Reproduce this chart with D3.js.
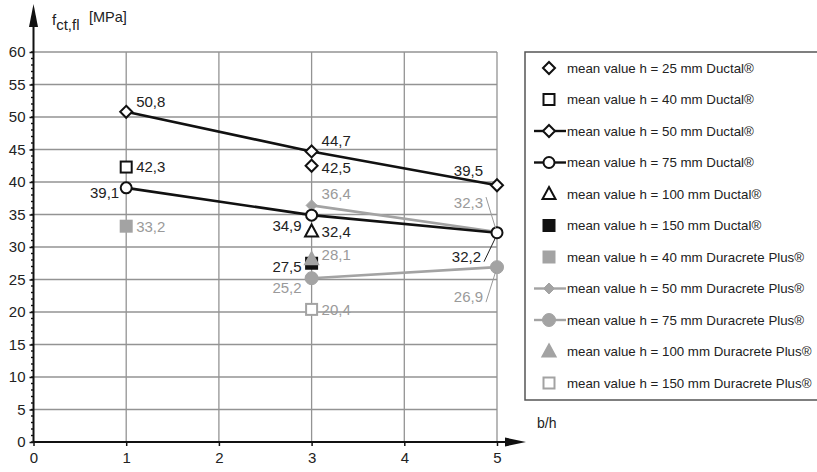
<!DOCTYPE html>
<html><head><meta charset="utf-8">
<script src="https://cdn.jsdelivr.net/npm/d3@7"></script>
<style>body{margin:0;background:#fff}svg{display:block;font-family:"Liberation Sans",Arial,sans-serif}</style>
</head><body><svg id="c" width="817" height="472"></svg>
<script>
// ---------- data ----------
const xTicks = [0,1,2,3,4,5];
const yTicks = [0,5,10,15,20,25,30,35,40,45,50,55,60];
const seriesNames = [
  "mean value h = 25 mm Ductal®",
  "mean value h = 40 mm Ductal®",
  "mean value h = 50 mm Ductal®",
  "mean value h = 75 mm Ductal®",
  "mean value h = 100 mm Ductal®",
  "mean value h = 150 mm Ductal®",
  "mean value h = 40 mm Duracrete Plus®",
  "mean value h = 50 mm Duracrete Plus®",
  "mean value h = 75 mm Duracrete Plus®",
  "mean value h = 100 mm Duracrete Plus®",
  "mean value h = 150 mm Duracrete Plus®"
];
const d25Ductal   = [[3,42.5]];
const d40Ductal   = [[1,42.3]];
const d50Ductal   = [[1,50.8],[3,44.7],[5,39.5]];
const d75Ductal   = [[1,39.1],[3,34.9],[5,32.2]];
const d100Ductal  = [[3,32.4]];
const d150Ductal  = [[3,27.5]];
const d40Dura     = [[1,33.2]];
const d50Dura     = [[3,36.4],[5,32.3]];
const d75Dura     = [[3,25.2],[5,26.9]];
const d100Dura    = [[3,28.1]];
const d150Dura    = [[3,20.4]];
const seriesData = [d25Ductal,d40Ductal,d50Ductal,d75Ductal,d100Ductal,d150Ductal,d40Dura,d50Dura,d75Dura,d100Dura,d150Dura];

// ---------- styles ----------
const BLACK = "#111", GRAY = "#a3a3a3";
const styles = [
  {sym:"diamond", stroke:BLACK, fill:"#fff", line:false},
  {sym:"square",  stroke:BLACK, fill:"#fff", line:false},
  {sym:"diamond", stroke:BLACK, fill:"#fff", line:true},
  {sym:"circle",  stroke:BLACK, fill:"#fff", line:true},
  {sym:"triangle",stroke:BLACK, fill:"#fff", line:false},
  {sym:"square",  stroke:BLACK, fill:BLACK,  line:false},
  {sym:"square",  stroke:GRAY,  fill:GRAY,   line:false},
  {sym:"sdiamond",stroke:GRAY,  fill:GRAY,   line:true},
  {sym:"bcircle", stroke:GRAY,  fill:GRAY,   line:true},
  {sym:"triangle",stroke:GRAY,  fill:GRAY,   line:false},
  {sym:"square",  stroke:GRAY,  fill:"#fff", line:false}
];
// label placements per series, per point: [dx, dy, anchor, leader?]
const labelPos = [
  [[10,7,"start"]],
  [[10,5,"start"]],
  [[10,-5,"start"],[10,-5,"start"],[-14,-9,"end"]],
  [[-7,10,"end"],[-10,16,"end"],[-16,29,"end","lead"]],
  [[10,6,"start"]],
  [[-10,9,"end"]],
  [[10,6,"start"]],
  [[10,-6,"start"],[-14,-24,"end","lead"]],
  [[-10,15,"end"],[-14,35,"end","lead"]],
  [[10,1,"start"]],
  [[10,6,"start"]]
];

const svg = d3.select("#c");
const x = d3.scaleLinear().domain([0,5]).range([33.5,497]);
const y = d3.scaleLinear().domain([0,60]).range([442,52]);

// grid
const grid = svg.append("g").attr("stroke","#939393").attr("stroke-width",1.3);
yTicks.filter(v=>v>0).forEach(v=>grid.append("line").attr("x1",x(0)).attr("x2",x(5)).attr("y1",y(v)).attr("y2",y(v)));
xTicks.filter(v=>v>0).forEach(v=>grid.append("line").attr("x1",x(v)).attr("x2",x(v)).attr("y1",y(0)).attr("y2",y(60)));

// axes with d3
const yAxis = d3.axisLeft(y).tickValues(yTicks).tickSize(4).tickPadding(4).tickFormat(d3.format("d"));
const gy = svg.append("g").attr("transform",`translate(${x(0)},0)`).call(yAxis);
gy.select(".domain").remove();
gy.selectAll("text").attr("font-size",15).attr("fill","#222").attr("font-family","Liberation Sans, Arial, sans-serif");
gy.selectAll("line").attr("stroke","#111").attr("stroke-width",1.5);
// minor ticks
d3.range(0,61).forEach(v=>svg.append("line").attr("x1",x(0)-2.5).attr("x2",x(0)).attr("y1",y(v)).attr("y2",y(v)).attr("stroke","#111").attr("stroke-width",1.4));

const xAxis = d3.axisBottom(x).tickValues(xTicks).tickSize(4).tickPadding(6).tickFormat(d3.format("d"));
const gx = svg.append("g").attr("transform",`translate(0,${y(0)})`).call(xAxis);
gx.select(".domain").remove();
gx.selectAll("text").attr("font-size",15).attr("fill","#222").attr("font-family","Liberation Sans, Arial, sans-serif");
gx.selectAll("line").attr("stroke","#111").attr("stroke-width",1.5);

// axis lines with arrows
svg.append("line").attr("x1",x(0)).attr("x2",x(0)).attr("y1",y(0)).attr("y2",22).attr("stroke","#111").attr("stroke-width",2);
svg.append("path").attr("d",`M${x(0)-4.5},27 L${x(0)},4 L${x(0)+4.5},27 Z`).attr("fill","#111");
svg.append("line").attr("x1",x(0)).attr("x2",510).attr("y1",y(0)).attr("y2",y(0)).attr("stroke","#111").attr("stroke-width",2);
svg.append("path").attr("d",`M505,${y(0)-4.5} L526,${y(0)} L505,${y(0)+4.5} Z`).attr("fill","#111");

// axis titles
const yt = svg.append("text").attr("x",52).attr("y",25).attr("font-size",15).attr("fill","#222");
yt.append("tspan").text("f");
yt.append("tspan").attr("dy",5).attr("font-size",15).text("ct,fl");
svg.append("text").attr("x",89).attr("y",22).attr("font-size",14.5).attr("fill","#222").text("[MPa]");
svg.append("text").attr("x",537).attr("y",428).attr("font-size",14).attr("fill","#222").text("b/h");

// marker drawing
function marker(g, st, cx, cy){
  const sw = 2;
  switch(st.sym){
    case "diamond": g.append("path").attr("d",`M${cx},${cy-6} L${cx+6},${cy} L${cx},${cy+6} L${cx-6},${cy} Z`).attr("fill",st.fill).attr("stroke",st.stroke).attr("stroke-width",sw); break;
    case "sdiamond": g.append("path").attr("d",`M${cx},${cy-5.5} L${cx+5.5},${cy} L${cx},${cy+5.5} L${cx-5.5},${cy} Z`).attr("fill",st.fill).attr("stroke",st.stroke).attr("stroke-width",1); break;
    case "square": g.append("rect").attr("x",cx-5.5).attr("y",cy-5.5).attr("width",11).attr("height",11).attr("fill",st.fill).attr("stroke",st.stroke).attr("stroke-width",sw); break;
    case "circle": g.append("circle").attr("cx",cx).attr("cy",cy).attr("r",5.5).attr("fill",st.fill).attr("stroke",st.stroke).attr("stroke-width",sw); break;
    case "bcircle": g.append("circle").attr("cx",cx).attr("cy",cy).attr("r",6.5).attr("fill",st.fill).attr("stroke",st.stroke).attr("stroke-width",1); break;
    case "triangle": g.append("path").attr("d",`M${cx},${cy-7} L${cx+6.5},${cy+5} L${cx-6.5},${cy+5} Z`).attr("fill",st.fill).attr("stroke",st.stroke).attr("stroke-width",sw).attr("stroke-linejoin","miter"); break;
  }
}

// lines (gray first, then black)
const lineGen = d3.line().x(d=>x(d[0])).y(d=>y(d[1]));
[7,8,2,3].forEach(i=>{
  svg.append("path").attr("d",lineGen(seriesData[i])).attr("fill","none").attr("stroke",styles[i].stroke).attr("stroke-width",2.6);
});
// markers
const mg = svg.append("g");
[6,8,7,10,5,9,0,1,2,3,4].forEach(i=>{
  seriesData[i].forEach(p=>marker(mg, styles[i], x(p[0]), y(p[1])));
});

// data labels
const fmt = v => String(v).replace(".",",");
seriesData.forEach((arr,i)=>{
  arr.forEach((p,j)=>{
    const lp = labelPos[i][j];
    const cx = x(p[0]), cy = y(p[1]);
    const col = styles[i].stroke===GRAY ? "#9a9a9a" : "#222";
    svg.append("text").attr("x",cx+lp[0]).attr("y",cy+lp[1]).attr("text-anchor",lp[2]).attr("font-size",15).attr("fill",col).text(fmt(p[1]));
    if(lp[3]==="lead"){
      const lx = cx+lp[0]+3;
      svg.append("line").attr("x1",lx).attr("y1",lp[1]<0? cy+lp[1]-11 : cy+lp[1]).attr("x2",cx-1.5).attr("y2",lp[1]<0? cy-4 : cy+5).attr("stroke",col).attr("stroke-width",1);
    }
  });
});

// legend
const lg = svg.append("g");
lg.append("path").attr("d","M825,52 L525,52 L525,400 L825,400").attr("fill","none").attr("stroke","#555").attr("stroke-width",1.5);
seriesNames.forEach((name,i)=>{
  const ly = 68 + i*31.5;
  const st = styles[i];
  if(st.line) lg.append("line").attr("x1",534).attr("x2",566).attr("y1",ly).attr("y2",ly).attr("stroke",st.stroke).attr("stroke-width",2.4);
  marker(lg, st, 549, ly);
  lg.append("text").attr("x",567).attr("y",ly+4.7).attr("font-size",13.3).attr("fill","#222").text(name);
});
</script></body></html>
